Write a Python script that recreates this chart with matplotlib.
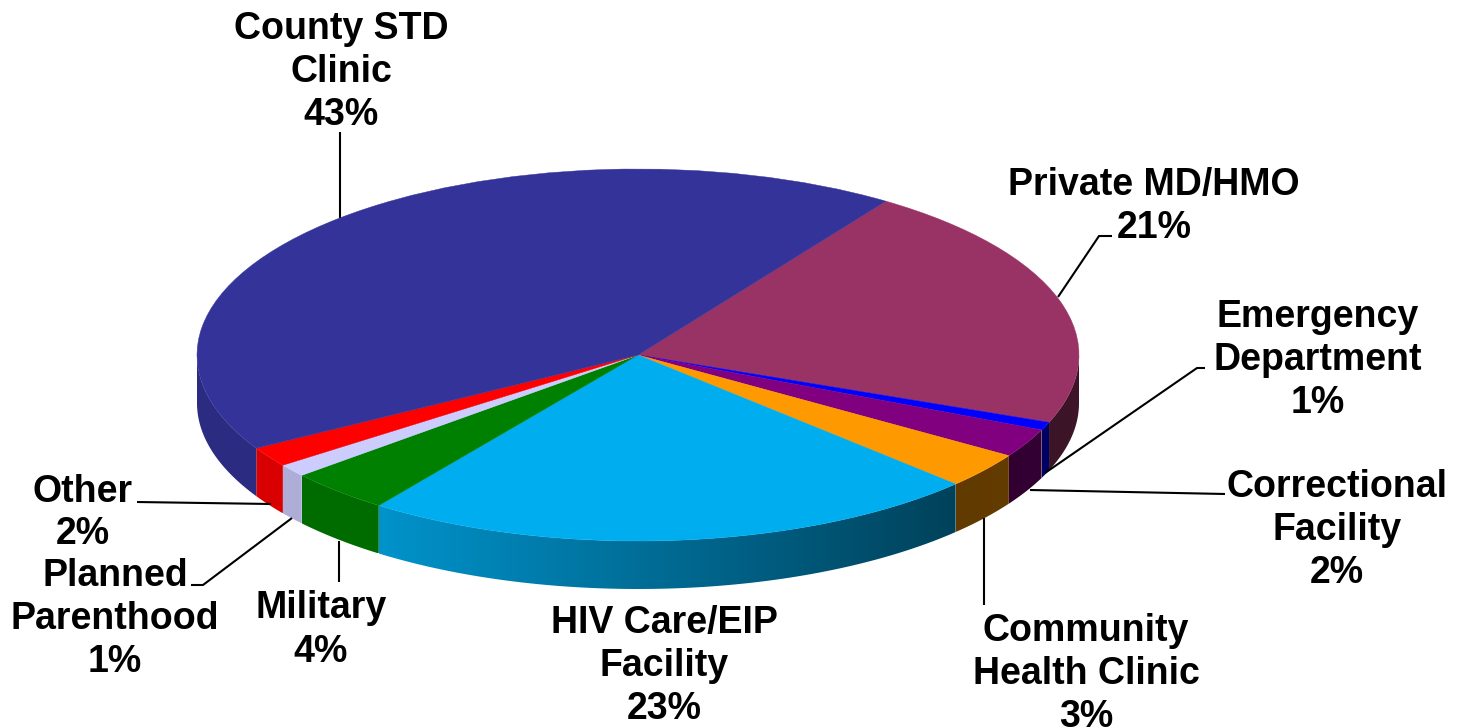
import numpy as np
import matplotlib
matplotlib.use('Agg')
import matplotlib.pyplot as plt
from matplotlib.patches import Wedge, Polygon

names = ['Private MD/HMO', 'Emergency\nDepartment', 'Correctional\nFacility',
         'Community\nHealth Clinic', 'HIV Care/EIP\nFacility', 'Military',
         'Planned\nParenthood', 'Other', 'County STD\nClinic']
percent_labels = ['21%', '1%', '2%', '3%', '23%', '4%', '1%', '2%', '43%']
# slice sizes, a bit finer than the rounded labels
shares = [21.4, 0.7, 2.5, 3.1, 22.8, 3.8, 1.1, 1.75, 42.85]
colors = ['#993366', '#0000FF', '#800080', '#FF9900', '#00ADEF',
          '#008000', '#CCCCFF', '#FF0000', '#333399']
label_centers = [(1154, 207), (1318, 360), (1337, 530), (1086, 674), (664, 666),
                 (321, 630), (115, 619), (83, 513), (341, 72)]
leaders = [[(1112, 236), (1099, 236), (1058, 297)],
           [(1205, 368), (1197, 368), (1045, 473)],
           [(1225, 494), (1030, 490)],
           [(984, 605), (984, 518)],
           [(339, 541), (339, 582)],
           [(191, 585), (203, 585), (292, 518)],
           [(137, 502), (271, 504)],
           [(340, 132), (340, 218)]]

W, H = 1461, 728
cx, cy, rx, ry = 638, 355, 441, 186
depth = 48 / ry
start_angle = 55.8


def to_data(x, y):
    return (x - cx) / rx, (cy - y) / ry


def shade(x):
    # side wall gets darker going left to right
    return np.interp(x, [-1, -0.59, 0.72, 1], [0.85, 0.85, 0.38, 0.4])


fig = plt.figure(figsize=(W / 100, H / 100), dpi=100)
ax = fig.add_axes([0, 0, 1, 1])
xlim = (-cx / rx, (W - cx) / rx)
ylim = ((cy - H) / ry, cy / ry)
ax.axis('off')

angles = start_angle - np.cumsum([0] + shares) * 3.6 * 100 / sum(shares)

# side wall: horizontal gradient image clipped to each slice's front band
for i, col in enumerate(colors):
    lo, hi = max(angles[i + 1], -180), min(angles[i], 0)
    if hi <= lo:
        continue
    t = np.radians(np.linspace(lo, hi, 80))
    x, y = np.cos(t), np.sin(t)
    band = Polygon(np.r_[np.c_[x, y], np.c_[x[::-1], y[::-1] - depth]], closed=True,
                   facecolor='none', edgecolor='none', transform=ax.transData)
    ax.add_patch(band)
    xs = np.linspace(x.min(), x.max(), 300)
    rgb = np.array(matplotlib.colors.to_rgb(col))
    img = (rgb[None, :] * shade(xs)[:, None])[None, :, :]
    im = ax.imshow(img, extent=(x.min(), x.max(), y.min() - depth, y.max()),
                   aspect='auto', interpolation='bilinear', zorder=1)
    im.set_clip_path(band)

ax.set_xlim(*xlim)
ax.set_ylim(*ylim)

# top face
for i, col in enumerate(colors):
    ax.add_patch(Wedge((0, 0), 1, angles[i + 1], angles[i], facecolor=col,
                       edgecolor=col, lw=0.3, zorder=2))

for pts in leaders:
    xs, ys = zip(*[to_data(*p) for p in pts])
    ax.plot(xs, ys, color='black', lw=1.5, zorder=3, solid_capstyle='butt')

for name, pct, (lx, ly) in zip(names, percent_labels, label_centers):
    tx, ty = to_data(lx, ly)
    ax.text(tx, ty, name + '\n' + pct, ha='center', va='center', ma='center',
            family='Liberation Sans', weight='bold', fontsize=27, linespacing=1.25,
            color='black', zorder=4)

fig.savefig('out.png', dpi=100, facecolor='white')
plt.close(fig)
